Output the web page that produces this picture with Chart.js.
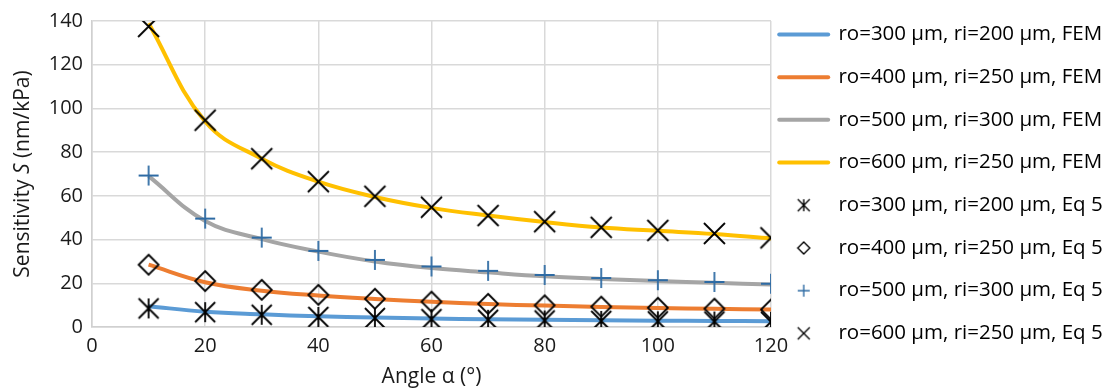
<!DOCTYPE html>
<html>
<head>
<meta charset="utf-8">
<script src="https://cdn.jsdelivr.net/npm/chart.js@4.4.0/dist/chart.umd.min.js"></script>
<style>
  html, body { margin: 0; padding: 0; background: #fff; }
  #wrap { width: 1116px; height: 390px; }
</style>
</head>
<body>
<div id="wrap"><canvas id="sensChart" width="1116" height="390"></canvas></div>
<script>
// Angle values (degrees)
const angles = [10, 20, 30, 40, 50, 60, 70, 80, 90, 100, 110, 120];

// FEM curves
const fem300 = [9.5, 7.0, 5.8, 4.9, 4.3, 3.9, 3.5, 3.3, 3.1, 2.9, 2.8, 2.6];
const fem400 = [28.5, 20.5, 16.6, 14.4, 12.8, 11.5, 10.5, 9.8, 9.2, 8.7, 8.3, 8.0];
const fem500 = [69, 48.5, 40.2, 34.5, 30.0, 27.0, 25.0, 23.2, 22.0, 21.0, 20.2, 19.5];
const fem600 = [139, 94, 77, 66.5, 59.5, 54.5, 51, 48, 45.5, 44, 42.5, 40.5];

// Eq 5 points
const eq300 = [8.5, 6.8, 5.6, 4.6, 4.1, 3.6, 3.3, 3.0, 2.8, 2.6, 2.5, 2.4];
const eq400 = [28.5, 21, 17, 14.7, 12.9, 11.6, 10.6, 9.9, 9.3, 8.8, 8.4, 8.0];
const eq500 = [69.3, 49.6, 40.9, 34.8, 30.7, 27.7, 25.7, 23.8, 22.4, 21.4, 20.6, 19.8];
const eq600 = [137.5, 94.6, 77, 66.5, 59.8, 54.8, 51, 48.2, 45.6, 44.2, 42.8, 40.8];

const femLabels = ['ro=300 μm, ri=200 μm, FEM', 'ro=400 μm, ri=250 μm, FEM', 'ro=500 μm, ri=300 μm, FEM', 'ro=600 μm, ri=250 μm, FEM'];
const eqLabels = ['ro=300 μm, ri=200 μm, Eq 5', 'ro=400 μm, ri=250 μm, Eq 5', 'ro=500 μm, ri=300 μm, Eq 5', 'ro=600 μm, ri=250 μm, Eq 5'];
const lineColors = ['#5b9bd5', '#ed7d31', '#a5a5a5', '#ffc000'];

const yTicks = [0, 20, 40, 60, 80, 100, 120, 140];
const xTicks = [0, 20, 40, 60, 80, 100, 120];

const FONT = "'Open Sans', 'Liberation Sans', sans-serif";

// draw Excel-like marker shapes on a small canvas
function makeMarker(kind, size, lw, color) {
    const pad = Math.ceil(lw) + 1;
    const c = document.createElement('canvas');
    c.width = c.height = size + 2 * pad;
    const ctx = c.getContext('2d');
    const m = c.width / 2, r = size / 2;
    ctx.strokeStyle = color;
    ctx.lineWidth = lw;
    ctx.beginPath();
    if (kind === 'x' || kind === 'star') {
        ctx.moveTo(m - r, m - r); ctx.lineTo(m + r, m + r);
        ctx.moveTo(m + r, m - r); ctx.lineTo(m - r, m + r);
    }
    if (kind === 'star' || kind === 'plus') {
        ctx.moveTo(m, m - r); ctx.lineTo(m, m + r);
    }
    if (kind === 'plus') {
        ctx.moveTo(m - r, m); ctx.lineTo(m + r, m);
    }
    if (kind === 'diamond') {
        ctx.moveTo(m, m - r); ctx.lineTo(m + r, m);
        ctx.lineTo(m, m + r); ctx.lineTo(m - r, m);
        ctx.closePath();
    }
    ctx.stroke();
    return c;
}

const markerKinds = ['star', 'diamond', 'plus', 'x'];
const markerColors = ['#000000', '#000000', '#2e6ba4', '#000000'];
const markerSizes = [20, 20, 20, 21];
const plotMarkers = markerKinds.map((k, i) => makeMarker(k, markerSizes[i], 1.8, markerColors[i]));
const legendMarkers = markerKinds.map((k, i) => makeMarker(k, 12, 1.4, markerColors[i]));

function toPoints(values) {
    return angles.map((a, i) => ({ x: a, y: values[i] }));
}

const femSeries = [fem300, fem400, fem500, fem600];
const eqSeries = [eq300, eq400, eq500, eq600];

const datasets = [];
femSeries.forEach((vals, i) => {
    datasets.push({
        label: femLabels[i],
        data: toPoints(vals),
        borderColor: lineColors[i],
        backgroundColor: lineColors[i],
        borderWidth: 4,
        pointRadius: 0,
        tension: 0.4,
        showLine: true,
        order: 2
    });
});
eqSeries.forEach((vals, i) => {
    datasets.push({
        label: eqLabels[i],
        data: toPoints(vals),
        showLine: false,
        pointStyle: plotMarkers[i],
        pointRadius: 10,
        order: 1
    });
});

// y axis title with italic S
const yTitlePlugin = {
    id: 'yTitle',
    afterDraw(chart) {
        const ctx = chart.ctx;
        const area = chart.chartArea;
        const parts = [['Sensitivity ', 'normal'], ['S', 'italic'], [' (nm/kPa)', 'normal']];
        ctx.save();
        ctx.fillStyle = '#1a1a1a';
        ctx.textBaseline = 'middle';
        ctx.translate(23, (area.top + area.bottom) / 2);
        ctx.rotate(-Math.PI / 2);
        let total = 0;
        parts.forEach(p => { ctx.font = p[1] + ' 21px ' + FONT; total += ctx.measureText(p[0]).width; });
        let x = -total / 2;
        parts.forEach(p => {
            ctx.font = p[1] + ' 21px ' + FONT;
            ctx.fillText(p[0], x, 0);
            x += ctx.measureText(p[0]).width;
        });
        ctx.restore();
    }
};

// nudge the legend closer to the plot and up
const legendShift = {
    id: 'legendShift',
    afterLayout(chart) {
        const lg = chart.legend;
        lg.left -= 14; lg.right -= 14;
        lg.top -= 16; lg.bottom -= 16;
    }
};

const ctx = document.getElementById('sensChart').getContext('2d');
const sensChart = new Chart(ctx, {
    type: 'scatter',
    data: { datasets: datasets },
    options: {
        responsive: false,
        animation: false,
        layout: { padding: { top: 18, right: 0, bottom: 0, left: 0 } },
        plugins: {
            tooltip: { enabled: false },
            legend: {
                position: 'right',
                align: 'start',
                maxWidth: 345,
                labels: {
                    usePointStyle: true,
                    pointStyleWidth: 49,
                    padding: 22.2,
                    color: '#1a1a1a',
                    font: { family: FONT, size: 20.5 },
                    generateLabels(chart) {
                        return chart.data.datasets.map((ds, i) => {
                            const isLine = i < 4;
                            return {
                                text: ds.label,
                                datasetIndex: i,
                                fillStyle: isLine ? lineColors[i] : 'rgba(0,0,0,0)',
                                strokeStyle: isLine ? lineColors[i] : 'rgba(0,0,0,0)',
                                lineWidth: isLine ? 4 : 0,
                                lineCap: 'round',
                                pointStyle: isLine ? 'line' : legendMarkers[i - 4],
                                hidden: false
                            };
                        });
                    }
                }
            }
        },
        scales: {
            x: {
                type: 'linear',
                min: 0,
                max: 120,
                afterFit(scale) { scale.height = 63; },
                afterBuildTicks(scale) { scale.ticks = xTicks.map(v => ({ value: v })); },
                grid: { color: '#d9d9d9', lineWidth: 1.5, drawTicks: false },
                border: { color: '#d0d0d0', width: 1.5 },
                ticks: { color: '#1a1a1a', padding: 7, font: { family: FONT, size: 20 } },
                title: {
                    display: true,
                    text: 'Angle α (°)',
                    color: '#1a1a1a',
                    padding: { top: 0, bottom: 0 },
                    font: { family: FONT, size: 21 }
                }
            },
            y: {
                min: 0,
                max: 140,
                afterFit(scale) { scale.width = 92; },
                afterBuildTicks(scale) { scale.ticks = yTicks.map(v => ({ value: v })); },
                grid: { color: '#d9d9d9', lineWidth: 1.5, drawTicks: false },
                border: { color: '#d0d0d0', width: 1.5 },
                ticks: { color: '#1a1a1a', padding: 9, font: { family: FONT, size: 20 } }
            }
        }
    },
    plugins: [yTitlePlugin, legendShift]
});
</script>
</body>
</html>
